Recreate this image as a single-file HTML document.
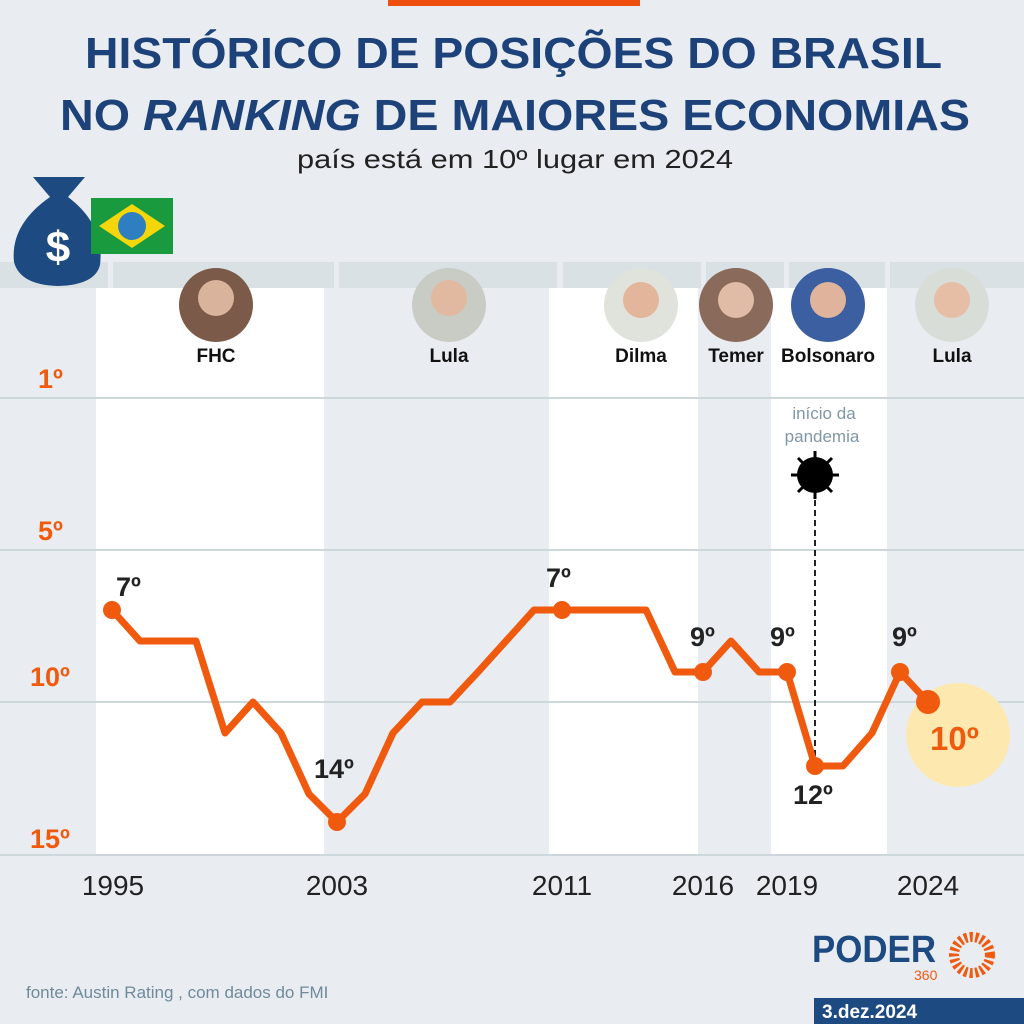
<!DOCTYPE html>
<html><head><meta charset="utf-8"><style>
body{margin:0;width:1024px;height:1024px;background:#e9edf1;overflow:hidden;font-family:"Liberation Sans",sans-serif}
</style></head><body>
<svg width="1024" height="1024" xmlns="http://www.w3.org/2000/svg" style="position:absolute;left:0;top:0;font-family:'Liberation Sans',sans-serif">
<rect x="0" y="0" width="1024" height="1024" fill="#e9edf1"/>
<rect x="388" y="0" width="252" height="6" fill="#f04e0f"/>
<text x="85" y="68" font-size="44" font-weight="bold" fill="#1d4279" textLength="857" lengthAdjust="spacingAndGlyphs">HISTÓRICO DE POSIÇÕES DO BRASIL</text>
<text x="60" y="130" font-size="44" font-weight="bold" fill="#1d4279" textLength="910" lengthAdjust="spacingAndGlyphs">NO <tspan font-style="italic">RANKING</tspan> DE MAIORES ECONOMIAS</text>
<text x="297" y="168" font-size="26" fill="#222" textLength="436" lengthAdjust="spacingAndGlyphs">país está em 10º lugar em 2024</text>
<g fill="#d9e1e4">
<rect x="0" y="262" width="108" height="26"/><rect x="113" y="262" width="221" height="26"/><rect x="339" y="262" width="218" height="26"/><rect x="563" y="262" width="138" height="26"/><rect x="706" y="262" width="78" height="26"/><rect x="789" y="262" width="96" height="26"/><rect x="890" y="262" width="134" height="26"/>
</g>
<g fill="#fff">
<rect x="96" y="288" width="228" height="567"/><rect x="549" y="288" width="149" height="567"/><rect x="771" y="288" width="116" height="567"/>
</g>
<g stroke="#cdd8dc" stroke-width="2">
<line x1="0" y1="398" x2="1024" y2="398"/><line x1="0" y1="550" x2="1024" y2="550"/><line x1="0" y1="702" x2="1024" y2="702"/><line x1="0" y1="855" x2="1024" y2="855"/>
</g>
<g fill="#f05a0f" font-size="27" font-weight="bold">
<text x="38" y="388">1º</text><text x="38" y="540">5º</text><text x="30" y="686">10º</text><text x="30" y="848">15º</text>
</g>
<path d="M33 177 L85 177 L68 197 Q105 225 100 265 Q95 285 58 286 Q20 285 14 262 Q10 225 50 197 Z" fill="#1d4a80"/>
<text x="58" y="262" text-anchor="middle" font-size="44" font-weight="bold" fill="#fff">$</text>
<rect x="91" y="198" width="82" height="56" fill="#1a9a3e"/>
<polygon points="99,226 132,204 165,226 132,248" fill="#f5d60a"/>
<circle cx="132" cy="226" r="14" fill="#2e7fc1"/>
<g>
<circle cx="216" cy="305" r="37" fill="#7b5a4a"/><circle cx="216" cy="298" r="18" fill="#d9b39c"/>
<circle cx="449" cy="305" r="37" fill="#c9ccc4"/><circle cx="449" cy="298" r="18" fill="#e0b9a0"/>
<circle cx="641" cy="305" r="37" fill="#dfe3dc"/><circle cx="641" cy="300" r="18" fill="#e3b69c"/>
<circle cx="736" cy="305" r="37" fill="#8a6a5a"/><circle cx="736" cy="300" r="18" fill="#e0bca6"/>
<circle cx="828" cy="305" r="37" fill="#3b5fa0"/><circle cx="828" cy="300" r="18" fill="#e0b49c"/>
<circle cx="952" cy="305" r="37" fill="#d8ddd8"/><circle cx="952" cy="300" r="18" fill="#e6bea6"/>
</g>
<g font-size="19" font-weight="bold" fill="#111" text-anchor="middle">
<text x="216" y="362">FHC</text><text x="449" y="362">Lula</text><text x="641" y="362">Dilma</text><text x="736" y="362">Temer</text><text x="828" y="362">Bolsonaro</text><text x="952" y="362">Lula</text>
</g>
<text x="824" y="419" text-anchor="middle" font-size="17" fill="#7f97a6">início da</text>
<text x="822" y="442" text-anchor="middle" font-size="17" fill="#7f97a6">pandemia</text>
<g fill="#000" stroke="#000" stroke-width="3">
<circle cx="815" cy="475" r="18" stroke="none"/>
<line x1="815" y1="451" x2="815" y2="499"/><line x1="791" y1="475" x2="839" y2="475"/>
<line x1="798" y1="458" x2="832" y2="492"/><line x1="832" y1="458" x2="798" y2="492"/>
</g>
<line x1="815" y1="500" x2="815" y2="766" stroke="#222" stroke-width="2" stroke-dasharray="6,4"/>
<circle cx="958" cy="735" r="52" fill="#fde9b0"/>
<polyline fill="none" stroke="#f05a0f" stroke-width="7" stroke-linejoin="round" points="112,610 140,641 168,641 196,641 225,733 253,702 281,733 309,794 337,822 365,794 393,733 422,702 450,702 478,672 506,641 534,610 562,610 590,610 618,610 646,610 675,672 703,672 731,641 759,672 787,672 815,766 843,766 872,733 900,672 928,702"/>
<g fill="#f05a0f">
<circle cx="112" cy="610" r="9"/><circle cx="337" cy="822" r="9"/><circle cx="562" cy="610" r="9"/><circle cx="703" cy="672" r="9"/><circle cx="787" cy="672" r="9"/><circle cx="815" cy="766" r="9"/><circle cx="900" cy="672" r="9"/><circle cx="928" cy="702" r="12"/>
</g>
<g font-size="27" font-weight="bold" fill="#222">
<text x="116" y="596">7º</text><text x="314" y="778">14º</text><text x="546" y="587">7º</text><text x="690" y="646">9º</text><text x="770" y="646">9º</text><text x="793" y="804">12º</text><text x="892" y="646">9º</text>
</g>
<text x="930" y="750" font-size="33" font-weight="bold" fill="#f05a0f">10º</text>
<g font-size="28" fill="#222" text-anchor="middle">
<text x="113" y="895">1995</text><text x="337" y="895">2003</text><text x="562" y="895">2011</text><text x="703" y="895">2016</text><text x="787" y="895">2019</text><text x="928" y="895">2024</text>
</g>
<text x="26" y="998" font-size="17" fill="#6f8a9b">fonte: Austin Rating , com dados do FMI</text>
<text x="812" y="962" font-size="38" font-weight="bold" fill="#1d4a80" textLength="124" lengthAdjust="spacingAndGlyphs">PODER</text>
<text x="914" y="980" font-size="14" fill="#f05a0f">360</text>
<circle cx="972" cy="955" r="18" fill="none" stroke="#f05a0f" stroke-width="10" stroke-dasharray="3,2.5"/>
<rect x="814" y="998" width="210" height="26" fill="#1d4a80"/>
<text x="822" y="1018" font-size="19" font-weight="bold" fill="#fff">3.dez.2024</text>
</svg>
</body></html>
